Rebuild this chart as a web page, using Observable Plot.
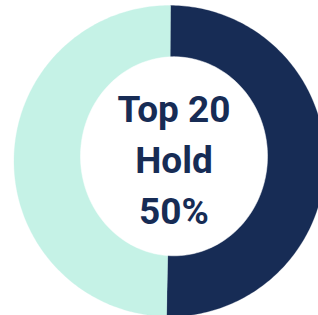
<!DOCTYPE html>
<html>
<head>
<meta charset="utf-8">
<script src="https://cdn.jsdelivr.net/npm/d3@7"></script>
<script src="https://cdn.jsdelivr.net/npm/@observablehq/plot@0.6"></script>
<style>
  html, body { margin: 0; padding: 0; background: #fff; overflow: hidden; }
  #chart svg { display: block; overflow: visible; }
</style>
</head>
<body>
<div id="chart"></div>
<script>
// ---- data ----
const categories = ["Top 20", "Others"];
const values = [50.2, 49.8];
const colors = ["#172c55", "#c5f2e6"];
const centerLines = ["Top 20", "Hold", "50%"];

// ---- layout (pixel-like units of the x/y scales) ----
const W = 318, H = 315;
const outer = {cx: 169, cy: 160.5, r: 155.5};
const hole = {cx: 173.5, cy: 155.8, rx: 93.5, ry: 99.5};
const startAngle = 0.0065;
const steps = 180;

const arcs = d3.pie().sort(null).startAngle(startAngle).endAngle(startAngle + 2 * Math.PI).value(d => d)(values);

function wedge(a) {
  const pts = [{x: outer.cx, y: outer.cy}];
  const n = Math.max(2, Math.ceil((a.endAngle - a.startAngle) / (2 * Math.PI) * steps * 2));
  for (let k = 0; k <= n; k++) {
    const t = a.startAngle + (a.endAngle - a.startAngle) * k / n;
    pts.push({x: outer.cx + outer.r * Math.sin(t), y: outer.cy - outer.r * Math.cos(t)});
  }
  pts.push({x: outer.cx, y: outer.cy});
  return pts;
}
const holePts = d3.range(steps + 1).map(k => {
  const t = 2 * Math.PI * k / steps;
  return {x: hole.cx + hole.rx * Math.sin(t), y: hole.cy - hole.ry * Math.cos(t)};
});

const lineH = 51;
const firstBaseline = 121;

const chart = Plot.plot({
  width: W,
  height: H,
  margin: 0,
  style: {background: "white", fontFamily: "Roboto, sans-serif", overflow: "visible"},
  x: {domain: [0, W], range: [0, W], axis: null},
  y: {domain: [0, H], range: [0, H], axis: null},
  marks: [
    ...arcs.map((a, i) => Plot.line(wedge(a), {x: "x", y: "y", fill: colors[i], stroke: colors[i], strokeWidth: 0.3, curve: "linear"})),
    Plot.line(holePts, {x: "x", y: "y", fill: "white", stroke: "white", strokeWidth: 0.5}),
    Plot.text(centerLines, {
      x: () => hole.cx,
      y: (d, i) => firstBaseline + i * lineH,
      text: d => d,
      lineAnchor: "bottom",
      textAnchor: "middle",
      fontSize: 37,
      fontWeight: 700,
      fill: colors[0]
    })
  ]
});
document.getElementById("chart").append(chart);
</script>
</body>
</html>
